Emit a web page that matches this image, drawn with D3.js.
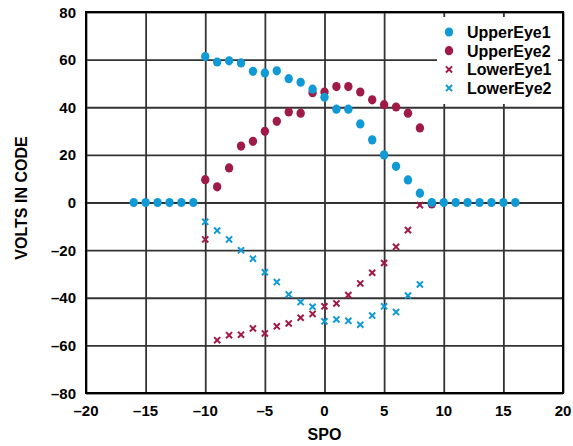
<!DOCTYPE html>
<html>
<head>
<meta charset="utf-8">
<script src="https://cdn.jsdelivr.net/npm/d3@7"></script>
<style>
  body { margin: 0; background: #fff; }
  text { font-family: "Liberation Sans", Arial, sans-serif; font-weight: bold; }
</style>
</head>
<body>
<div id="chart"></div>
<script>
// data
const spoUpper1 = d3.range(-16, 17);
const upperEye1 = [0, 0, 0, 0, 0, 0,
  61.3, 59.0, 59.5, 58.6, 55.1, 54.4, 55.3, 52.0, 50.5, 47.6, 44.2, 39.2, 39.2, 33.0, 26.3, 20.0, 15.2, 9.5, 3.9,
  0, 0, 0, 0, 0, 0, 0, 0];
const spoMid = d3.range(-10, 10);
const upperEye2 = [9.6, 6.6, 14.5, 23.7, 25.7, 29.9, 34.1, 38.0, 37.5, 46.1, 46.4, 48.7, 48.7, 46.4, 43.1, 41.1, 40.1, 37.5, 31.3, -0.6];
const spoLower = d3.range(-10, 9);
const lowerEye1 = [-15.5, -57.8, -55.7, -55.5, -52.9, -55.0, -52.0, -50.8, -48.4, -46.8, -43.6, -42.4, -38.9, -34.0, -29.5, -25.4, -18.6, -11.6, -1.1];
const lowerEye2 = [-8.1, -11.8, -15.5, -20.1, -23.6, -29.3, -33.4, -38.6, -41.8, -43.8, -49.9, -49.1, -49.7, -51.3, -47.5, -43.6, -46.0, -39.1, -34.4];
const xTicks = [-20, -15, -10, -5, 0, 5, 10, 15, 20];
const yTicks = [-80, -60, -40, -20, 0, 20, 40, 60, 80];

const blue = "#0f9ad6";
const red = "#a01a48";

const width = 573, height = 446;
const margin = { left: 86, right: 10, top: 12, bottom: 53 };

const svg = d3.select("#chart").append("svg")
  .attr("width", width)
  .attr("height", height);

const x = d3.scaleLinear().domain([-20, 20]).range([margin.left, width - margin.right]);
const y = d3.scaleLinear().domain([-80, 80]).range([height - margin.bottom, margin.top]);

// grid
svg.append("g")
  .attr("transform", "translate(0," + y(-80) + ")")
  .call(d3.axisBottom(x).tickValues(xTicks).tickSize(-(y(-80) - y(80))).tickFormat(""))
  .call(g => g.select(".domain").remove())
  .call(g => g.selectAll("line").attr("stroke", "#333").attr("stroke-width", 1.8));
svg.append("g")
  .attr("transform", "translate(" + x(-20) + ",0)")
  .call(d3.axisLeft(y).tickValues(yTicks).tickSize(-(x(20) - x(-20))).tickFormat(""))
  .call(g => g.select(".domain").remove())
  .call(g => g.selectAll("line").attr("stroke", "#333").attr("stroke-width", 1.8));

// tick labels
const fmt = d => d < 0 ? "\u2013" + Math.abs(d) : String(d);
svg.append("g").selectAll("text")
  .data(xTicks).enter().append("text")
  .attr("x", d => x(d))
  .attr("y", y(-80) + 23)
  .attr("text-anchor", "middle")
  .style("font-size", "15px")
  .text(fmt);
svg.append("g").selectAll("text")
  .data(yTicks).enter().append("text")
  .attr("x", x(-20) - 10)
  .attr("y", d => y(d) + 5.5)
  .attr("text-anchor", "end")
  .style("font-size", "15px")
  .text(fmt);

// axis titles
svg.append("text")
  .attr("x", x(0))
  .attr("y", 440)
  .attr("text-anchor", "middle")
  .style("font-size", "16px")
  .text("SPO");
svg.append("text")
  .attr("transform", "translate(27,198) rotate(-90)")
  .attr("text-anchor", "middle")
  .style("font-size", "16px")
  .text("VOLTS IN CODE");

// legend box (covers grid)
const lg = svg.append("g").attr("transform", "translate(437,17)");
lg.append("rect").attr("width", 121).attr("height", 87).attr("fill", "#fff");

// frame
svg.append("rect")
  .attr("x", x(-20)).attr("y", y(80))
  .attr("width", x(20) - x(-20)).attr("height", y(-80) - y(80))
  .attr("fill", "none").attr("stroke", "#000").attr("stroke-width", 2);

const plot = svg.append("g");

function dots(xs, ys, color) {
  plot.append("g").selectAll("ellipse")
    .data(ys).enter().append("ellipse")
    .attr("cx", (d, i) => x(xs[i]))
    .attr("cy", d => y(d))
    .attr("rx", 4.2).attr("ry", 4.6)
    .attr("fill", color);
}
const cross = d3.symbol().type(d3.symbolX).size(26);
function crosses(xs, ys, color) {
  plot.append("g").selectAll("path")
    .data(ys).enter().append("path")
    .attr("transform", (d, i) => "translate(" + x(xs[i]) + "," + y(d) + ")")
    .attr("d", cross)
    .attr("fill", "none")
    .attr("stroke", color)
    .attr("stroke-width", 2);
}

crosses(spoLower, lowerEye1, red);
crosses(spoLower, lowerEye2, blue);
dots(spoMid, upperEye2, red);
dots(spoUpper1, upperEye1, blue);

// legend entries
const legendItems = [
  { name: "UpperEye1", color: blue, kind: "dot" },
  { name: "UpperEye2", color: red, kind: "dot" },
  { name: "LowerEye1", color: red, kind: "x" },
  { name: "LowerEye2", color: blue, kind: "x" }
];
legendItems.forEach((d, i) => {
  const row = lg.append("g").attr("transform", "translate(12," + (15 + i * 18.7) + ")");
  if (d.kind === "dot") {
    row.append("ellipse").attr("rx", 4.2).attr("ry", 4.6).attr("fill", d.color);
  } else {
    row.append("path").attr("d", cross).attr("fill", "none").attr("stroke", d.color).attr("stroke-width", 2);
  }
  row.append("text")
    .attr("x", 18)
    .attr("y", 6)
    .style("font-size", "16px")
    .text(d.name);
});
</script>
</body>
</html>
